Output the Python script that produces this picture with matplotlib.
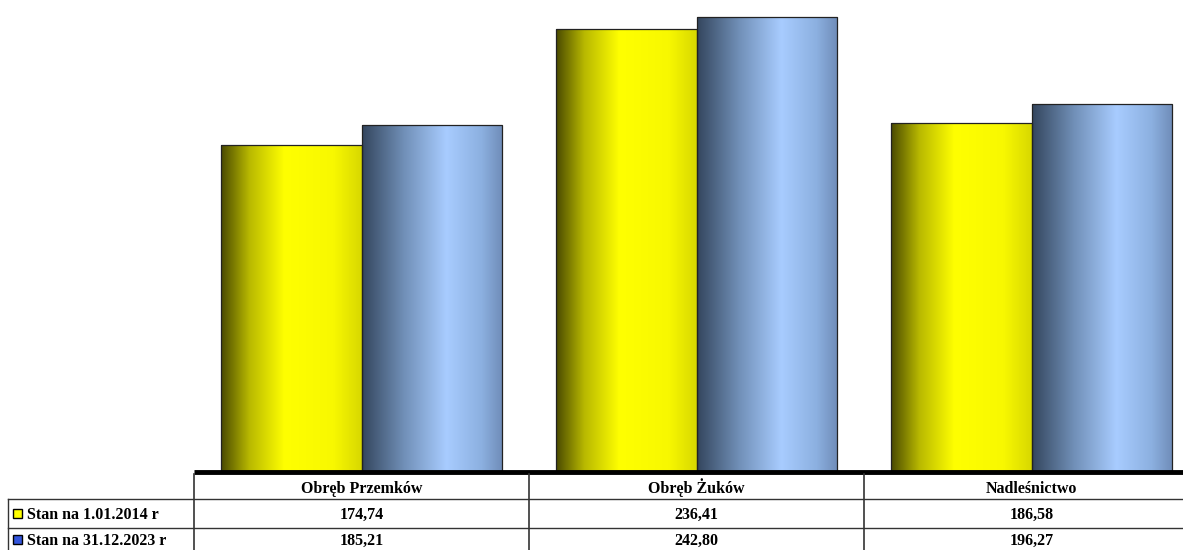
import numpy as np
import matplotlib
matplotlib.use("Agg")
import matplotlib.pyplot as plt
from matplotlib.colors import LinearSegmentedColormap
from matplotlib.patches import Rectangle

categories = ["Obręb Przemków", "Obręb Żuków", "Nadleśnictwo"]
series_names = ["Stan na 1.01.2014 r", "Stan na 31.12.2023 r"]
values_2014 = [174.74, 236.41, 186.58]
values_2023 = [185.21, 242.80, 196.27]
value_labels_2014 = ["174,74", "236,41", "186,58"]
value_labels_2023 = ["185,21", "242,80", "196,27"]

W, H = 1183, 550
fig = plt.figure(figsize=(W / 100, H / 100), dpi=100)
plt.rcParams['font.family'] = ['Liberation Serif', 'DejaVu Serif']

# horizontal gradients for the "cylinder" look
cm_yellow = LinearSegmentedColormap.from_list(
    "yel", [(0, "#4a4a00"), (0.2, "#b8b800"), (0.45, "#ffff00"), (0.8, "#f8f800"), (1, "#d8d800")])
cm_blue = LinearSegmentedColormap.from_list(
    "blu", [(0, "#34465e"), (0.3, "#7190b8"), (0.6, "#a8ccff"), (0.85, "#8cb0e0"), (1, "#6f8cb8")])

# plot area: x from 194 px, a category is 335 px wide, baseline at y=472
ax = fig.add_axes([194 / W, (H - 472) / H, 1005 / W, 472 / H])
ax.axis("off")

bw = 0.418
grad = np.linspace(0, 1, 256).reshape(1, -1)
x = np.arange(len(categories)) + 0.5
for vals, cmap, off in [(values_2014, cm_yellow, -bw / 2), (values_2023, cm_blue, bw / 2)]:
    bars = ax.bar(x + off, vals, width=bw, color="none", edgecolor="#222222", linewidth=0.9, zorder=3)
    for b in bars:
        x0, w, h = b.get_x(), b.get_width(), b.get_height()
        im = ax.imshow(grad, cmap=cmap, aspect="auto", extent=(x0, x0 + w, 0, h), zorder=2)
        im.set_clip_path(b)
ax.set_xlim(0, 3)
ax.set_ylim(0, 252)
ax.plot([0, 3], [0, 0], color="black", lw=3.5, zorder=5, clip_on=False, solid_capstyle="butt")

# data table below the chart, drawn in pixel coordinates
tx = fig.add_axes([0, 0, 1, 1])
tx.set_xlim(0, W)
tx.set_ylim(H, 0)
tx.axis("off")
lc = "#333333"
col_edges = [194, 529, 864, 1199]
for yy in [499, 528]:
    tx.plot([8, W], [yy, yy], color=lc, lw=1)
tx.plot([8, 8], [499, H], color=lc, lw=1)
for xx in col_edges[:3]:
    tx.plot([xx, xx], [474, H], color=lc, lw=1.2)

fs = 11.5
for i, c in enumerate(categories):
    cx = (col_edges[i] + col_edges[i + 1]) / 2
    tx.text(cx, 493, c, ha="center", va="baseline", fontsize=fs, fontweight="bold")
    tx.text(cx, 519, value_labels_2014[i], ha="center", va="baseline", fontsize=fs, fontweight="bold")
    tx.text(cx, 545, value_labels_2023[i], ha="center", va="baseline", fontsize=fs, fontweight="bold")

key_colors = ["#ffff00", "#3355dd"]
for j, (name, kc) in enumerate(zip(series_names, key_colors)):
    yb = 519 if j == 0 else 545
    tx.add_patch(Rectangle((13, yb - 10), 9, 9, facecolor=kc, edgecolor="black", lw=1))
    tx.text(27, yb, name, ha="left", va="baseline", fontsize=fs, fontweight="bold")

fig.savefig("out.png", dpi=100)
